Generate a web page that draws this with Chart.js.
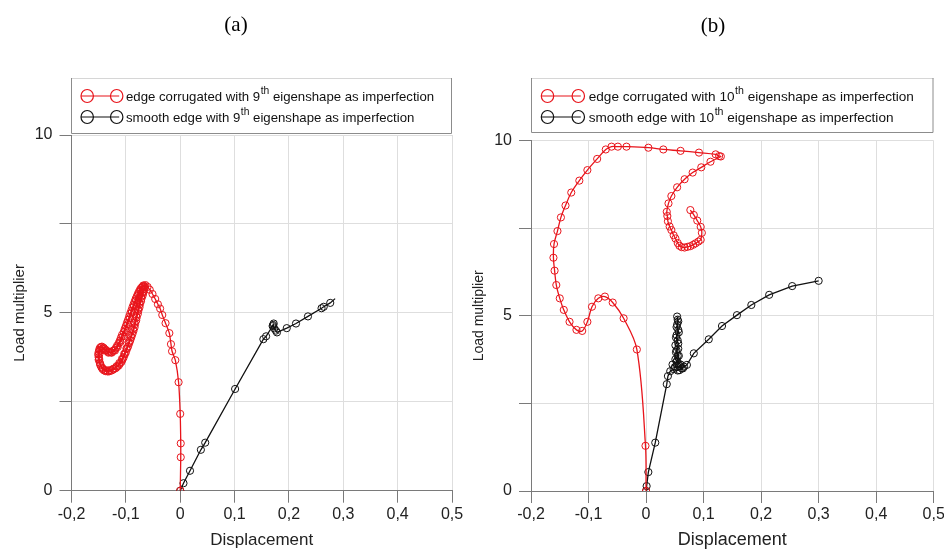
<!DOCTYPE html>
<html>
<head>
<meta charset="utf-8">
<script src="https://cdn.jsdelivr.net/npm/chart.js@4.4.1/dist/chart.umd.min.js"></script>
<style>
  html, body { margin: 0; padding: 0; background: #fff; overflow: hidden; }
  #wrap { position: relative; width: 944px; height: 552px; }
  canvas { position: absolute; top: 0; }
</style>
</head>
<body>
<div id="wrap">
  <canvas id="panelA" width="472" height="552" style="left:0"></canvas>
  <canvas id="panelB" width="472" height="552" style="left:472px"></canvas>
</div>
<script>
// Axis ticks shared by both panels
const xTicks = [-0.2, -0.1, 0, 0.1, 0.2, 0.3, 0.4, 0.5];
const yTicks = [0, 2.5, 5, 7.5, 10];
const yLabelled = [0, 5, 10];

// Panel (a): edge corrugated, 9th eigenshape imperfection
const aCorrX = [
  0, 0.001, 0.001, 0, -0.003, -0.009, -0.015, -0.017, -0.020, -0.027, -0.033, -0.037, -0.041, -0.046, -0.051, -0.056, -0.060, -0.064,
  -0.069, -0.074, -0.078, -0.082, -0.086, -0.090, -0.094, -0.098, -0.102, -0.107, -0.111, -0.116, -0.121, -0.127, -0.133, -0.139, -0.144, -0.148, -0.150, -0.150, -0.148, -0.145, -0.140, -0.133, -0.126, -0.119, -0.113, -0.108, -0.104, -0.100, -0.096, -0.092, -0.088, -0.084, -0.081, -0.078, -0.075, -0.072, -0.069, -0.067, -0.065,
  -0.068, -0.072, -0.076, -0.080, -0.084, -0.088, -0.092, -0.096, -0.100, -0.104, -0.109, -0.113, -0.118, -0.124, -0.130, -0.136, -0.141, -0.146, -0.149, -0.151, -0.150, -0.147, -0.143, -0.137, -0.130, -0.123, -0.116, -0.111, -0.106, -0.102, -0.098, -0.094, -0.090, -0.086, -0.083, -0.080, -0.077, -0.074, -0.071, -0.068, -0.066, -0.066,
  -0.070, -0.073, -0.077, -0.081, -0.085, -0.089, -0.093, -0.097, -0.101, -0.105, -0.110, -0.115, -0.120, -0.126, -0.132, -0.138, -0.143, -0.147, -0.149, -0.149, -0.147, -0.143, -0.137, -0.130, -0.123, -0.117, -0.112, -0.107, -0.103, -0.099, -0.095, -0.091, -0.087, -0.084, -0.081, -0.078, -0.075, -0.072, -0.069, -0.068
];
const aCorrY = [
  0, 0.94, 1.33, 2.16, 3.05, 3.67, 3.92, 4.12, 4.43, 4.71, 4.94, 5.12, 5.24, 5.39, 5.53, 5.65, 5.73, 5.78,
  5.74, 5.65, 5.53, 5.39, 5.23, 5.06, 4.89, 4.72, 4.55, 4.38, 4.22, 4.08, 3.96, 3.89, 3.91, 3.98, 4.05, 4.01, 3.90, 3.75, 3.60, 3.47, 3.38, 3.35, 3.38, 3.44, 3.52, 3.62, 3.75, 3.89, 4.05, 4.22, 4.40, 4.59, 4.78, 4.97, 5.15, 5.33, 5.49, 5.62, 5.72,
  5.77, 5.70, 5.59, 5.46, 5.31, 5.15, 4.98, 4.80, 4.63, 4.46, 4.30, 4.15, 4.02, 3.93, 3.90, 3.95, 4.02, 4.04, 3.96, 3.83, 3.68, 3.53, 3.42, 3.36, 3.36, 3.41, 3.48, 3.57, 3.69, 3.83, 3.98, 4.14, 4.31, 4.49, 4.68, 4.87, 5.06, 5.24, 5.41, 5.56, 5.68, 5.75,
  5.72, 5.62, 5.50, 5.35, 5.19, 5.02, 4.85, 4.68, 4.51, 4.34, 4.18, 4.04, 3.94, 3.88, 3.88, 3.94, 3.99, 3.94, 3.83, 3.70, 3.56, 3.45, 3.39, 3.39, 3.43, 3.50, 3.59, 3.71, 3.85, 4.00, 4.17, 4.35, 4.53, 4.72, 4.91, 5.10, 5.28, 5.45, 5.58, 5.66
];

// Panel (a): smooth edge, 9th eigenshape imperfection
const aSmoothX = [0, 0.006, 0.018, 0.038, 0.046, 0.101, 0.153, 0.158, 0.170, 0.172, 0.171, 0.173, 0.176, 0.178, 0.196, 0.213, 0.235, 0.260, 0.264, 0.276, 0.285];
const aSmoothY = [0, 0.21, 0.56, 1.15, 1.35, 2.86, 4.26, 4.34, 4.63, 4.70, 4.66, 4.56, 4.50, 4.45, 4.57, 4.70, 4.90, 5.13, 5.17, 5.28, 5.40];

// Panel (b): edge corrugated, 10th eigenshape imperfection
const bCorrX = [
  0, -0.001, -0.016, -0.039, -0.058, -0.0715, -0.083, -0.094, -0.102, -0.111, -0.121, -0.133, -0.143, -0.150, -0.156, -0.159, -0.161, -0.160, -0.154, -0.148, -0.140, -0.130, -0.116, -0.102, -0.085, -0.070, -0.060, -0.049, -0.034, 0.004, 0.030, 0.060, 0.092, 0.121, 0.127, 0.130,
  0.112, 0.096, 0.081, 0.067, 0.054, 0.044, 0.039, 0.036, 0.037, 0.038, 0.041, 0.044, 0.048, 0.051, 0.055, 0.058, 0.062, 0.067, 0.072, 0.077, 0.082, 0.086, 0.091, 0.095, 0.097, 0.095, 0.089, 0.083, 0.077
];
const bCorrY = [
  0, 1.29, 4.04, 4.93, 5.38, 5.55, 5.50, 5.26, 4.83, 4.57, 4.60, 4.83, 5.17, 5.50, 5.88, 6.29, 6.66, 7.05, 7.42, 7.81, 8.15, 8.52, 8.86, 9.16, 9.48, 9.75, 9.83, 9.83, 9.83, 9.80, 9.75, 9.71, 9.66, 9.61, 9.56, 9.55,
  9.40, 9.24, 9.09, 8.90, 8.67, 8.42, 8.21, 7.97, 7.85, 7.70, 7.55, 7.45, 7.30, 7.21, 7.08, 7.00, 6.96, 6.95, 6.97, 6.99, 7.03, 7.07, 7.12, 7.17, 7.37, 7.54, 7.72, 7.88, 8.02
];

// Panel (b): smooth edge, 10th eigenshape imperfection
const bSmoothX = [
  0, 0.001, 0.004, 0.016, 0.036, 0.038, 0.042, 0.048, 0.055, 0.062, 0.058, 0.050, 0.046, 0.053, 0.057, 0.051, 0.055, 0.052, 0.056, 0.051, 0.055, 0.053, 0.056, 0.054, 0.055, 0.054,
  0.056, 0.053, 0.057, 0.052, 0.056, 0.053, 0.057, 0.054, 0.060, 0.064, 0.058, 0.066, 0.071, 0.083, 0.109, 0.132, 0.158, 0.183, 0.214, 0.254, 0.300
];
const bSmoothY = [
  0, 0.14, 0.54, 1.38, 3.05, 3.28, 3.42, 3.48, 3.44, 3.50, 3.57, 3.53, 3.61, 3.69, 3.62, 3.76, 3.86, 3.96, 4.06, 4.16, 4.30, 4.45, 4.60, 4.75, 4.89, 4.98,
  4.84, 4.68, 4.53, 4.38, 4.21, 4.02, 3.86, 3.72, 3.61, 3.50, 3.45, 3.55, 3.60, 3.93, 4.33, 4.71, 5.02, 5.31, 5.60, 5.85, 6.00
];

// Legend captions: text before superscript, superscript, text after
const aLegend = [
  ['edge corrugated with 9', 'th', ' eigenshape as imperfection'],
  ['smooth edge with 9', 'th', ' eigenshape as imperfection']
];
const bLegend = [
  ['edge corrugated with 10', 'th', ' eigenshape as imperfection'],
  ['smooth edge with 10', 'th', ' eigenshape as imperfection']
];

const RED = '#e8141b';
const BLACK = '#111111';
const SANS = '"Liberation Sans", Arial, Helvetica, sans-serif';

function points(xs, ys) {
  return xs.map((x, i) => ({ x: x, y: ys[i] }));
}

function fmtX(v) {
  const r = Math.round(v * 10) / 10;
  if (r === 0) return '0';
  return r.toFixed(1).replace('.', ',');
}

// Draws panel caption and framed legend with line-and-circle keys
const panelDecor = {
  id: 'panelDecor',
  afterDraw(chart, args, o) {
    const ctx = chart.ctx;
    ctx.save();
    ctx.fillStyle = '#000';
    ctx.font = '21px "Liberation Serif", "Times New Roman", serif';
    ctx.textAlign = 'center';
    ctx.textBaseline = 'middle';
    ctx.fillText(o.caption, o.captionX, o.captionY);

    const b = o.box;
    ctx.lineWidth = 1;
    ctx.strokeStyle = '#d6d6d6';
    ctx.beginPath();
    ctx.moveTo(b.l, b.t + 0.5);
    ctx.lineTo(b.r, b.t + 0.5);
    ctx.stroke();
    ctx.strokeStyle = '#8c8c8c';
    ctx.beginPath();
    ctx.moveTo(b.l + 0.5, b.t);
    ctx.lineTo(b.l + 0.5, b.b + 0.5);
    ctx.lineTo(b.r - 0.5, b.b + 0.5);
    ctx.lineTo(b.r - 0.5, b.t);
    ctx.stroke();

    o.rows.forEach((row, i) => {
      const y = o.rowY[i];
      const col = o.colors[i];
      ctx.strokeStyle = col;
      ctx.lineWidth = 1.2;
      ctx.beginPath();
      ctx.moveTo(o.sym1 - o.r, y);
      ctx.lineTo(o.sym2 + o.r * 0.4, y);
      ctx.stroke();
      [o.sym1, o.sym2].forEach(cx => {
        ctx.beginPath();
        ctx.ellipse(cx, y, o.r, o.r * 1.05, 0, 0, Math.PI * 2);
        ctx.stroke();
      });
      ctx.fillStyle = '#111';
      ctx.textAlign = 'left';
      ctx.textBaseline = 'alphabetic';
      const base = y + o.fs * 0.36;
      let x = o.textX;
      ctx.font = o.fs + 'px ' + SANS;
      ctx.fillText(row[0], x, base);
      x += ctx.measureText(row[0]).width;
      ctx.font = (o.fs * 0.78) + 'px ' + SANS;
      ctx.fillText(row[1], x + 0.5, base - o.fs * 0.48);
      x += ctx.measureText(row[1]).width + 0.5;
      ctx.font = o.fs + 'px ' + SANS;
      ctx.fillText(row[2], x, base);
    });
    ctx.restore();
  }
};

function makePanel(id, g) {
  const series = [
    { pts: points(g.corrX, g.corrY), color: RED, tension: g.corrTension },
    { pts: points(g.smoothX, g.smoothY), color: BLACK, tension: 0 }
  ];
  return new Chart(document.getElementById(id), {
    type: 'scatter',
    data: {
      datasets: series.map(s => ({
        data: s.pts,
        showLine: true,
        borderColor: s.color,
        borderWidth: 1.3,
        pointRadius: s.pts.map((p, i) => (g.bareLast && s.color === BLACK && i === s.pts.length - 1) ? 0 : 3.6),
        pointBorderColor: s.color,
        pointBackgroundColor: 'rgba(0,0,0,0)',
        pointBorderWidth: 1,
        tension: s.tension
      }))
    },
    options: {
      responsive: false,
      animation: false,
      devicePixelRatio: 1,
      layout: { padding: { top: g.top, right: g.right, bottom: 0, left: 0 } },
      plugins: {
        legend: { display: false },
        tooltip: { enabled: false },
        panelDecor: g.decor
      },
      scales: {
        x: {
          type: 'linear',
          min: -0.2,
          max: 0.5,
          afterBuildTicks: s => { s.ticks = xTicks.map(v => ({ value: v })); },
          afterFit: s => { s.height = g.xH; s.paddingLeft = 0; s.paddingRight = 0; },
          ticks: {
            callback: v => fmtX(v),
            color: '#222',
            font: { family: SANS, size: 16 },
            padding: 2,
            maxRotation: 0,
            autoSkip: false
          },
          grid: { color: '#dedede', tickColor: '#7a7a7a', tickLength: 12, lineWidth: 1 },
          border: { color: '#7a7a7a', width: 1 },
          title: {
            display: true,
            text: 'Displacement',
            color: '#222',
            font: { family: SANS, size: g.xTitleSize, lineHeight: 1 },
            padding: { top: 0, bottom: g.xTitlePad }
          }
        },
        y: {
          type: 'linear',
          min: 0,
          max: 10,
          afterBuildTicks: s => { s.ticks = yTicks.map(v => ({ value: v })); },
          afterFit: s => { s.width = g.yW; s.paddingTop = 0; s.paddingBottom = 0; },
          ticks: {
            callback: v => (yLabelled.includes(v) ? String(v) : ''),
            color: '#222',
            font: { family: SANS, size: 16 },
            padding: 7,
            autoSkip: false
          },
          grid: { color: '#dedede', tickColor: '#7a7a7a', tickLength: 12, lineWidth: 1 },
          border: { color: '#7a7a7a', width: 1 },
          title: {
            display: true,
            text: 'Load multiplier',
            color: '#222',
            font: { family: SANS, size: g.yTitleSize, lineHeight: 1 },
            padding: { top: g.yTitlePad, bottom: 0 }
          }
        }
      }
    },
    plugins: [panelDecor]
  });
}

makePanel('panelA', {
  corrX: aCorrX, corrY: aCorrY, smoothX: aSmoothX, smoothY: aSmoothY,
  bareLast: true, corrTension: 0.2,
  top: 135, right: 20, xH: 61.3, yW: 71.5,
  xTitleSize: 17, xTitlePad: 3.5, yTitleSize: 15, yTitlePad: 12.5,
  decor: {
    caption: '(a)', captionX: 236, captionY: 25,
    box: { l: 71, r: 452, t: 78, b: 133 },
    rows: aLegend, rowY: [96, 117], colors: [RED, BLACK],
    sym1: 87.2, sym2: 116.7, r: 6.2, textX: 126, fs: 13.2
  }
});

makePanel('panelB', {
  corrX: bCorrX, corrY: bCorrY, smoothX: bSmoothX, smoothY: bSmoothY,
  bareLast: false, corrTension: 0.35,
  top: 140.7, right: 10.3, xH: 61, yW: 59,
  xTitleSize: 18, xTitlePad: 3, yTitleSize: 14, yTitlePad: 0,
  decor: {
    caption: '(b)', captionX: 241, captionY: 26,
    box: { l: 59, r: 461.5, t: 78, b: 132 },
    rows: bLegend, rowY: [96, 117], colors: [RED, BLACK],
    sym1: 75.5, sym2: 106.3, r: 6.2, textX: 116.7, fs: 13.6
  }
});
</script>
</body>
</html>
